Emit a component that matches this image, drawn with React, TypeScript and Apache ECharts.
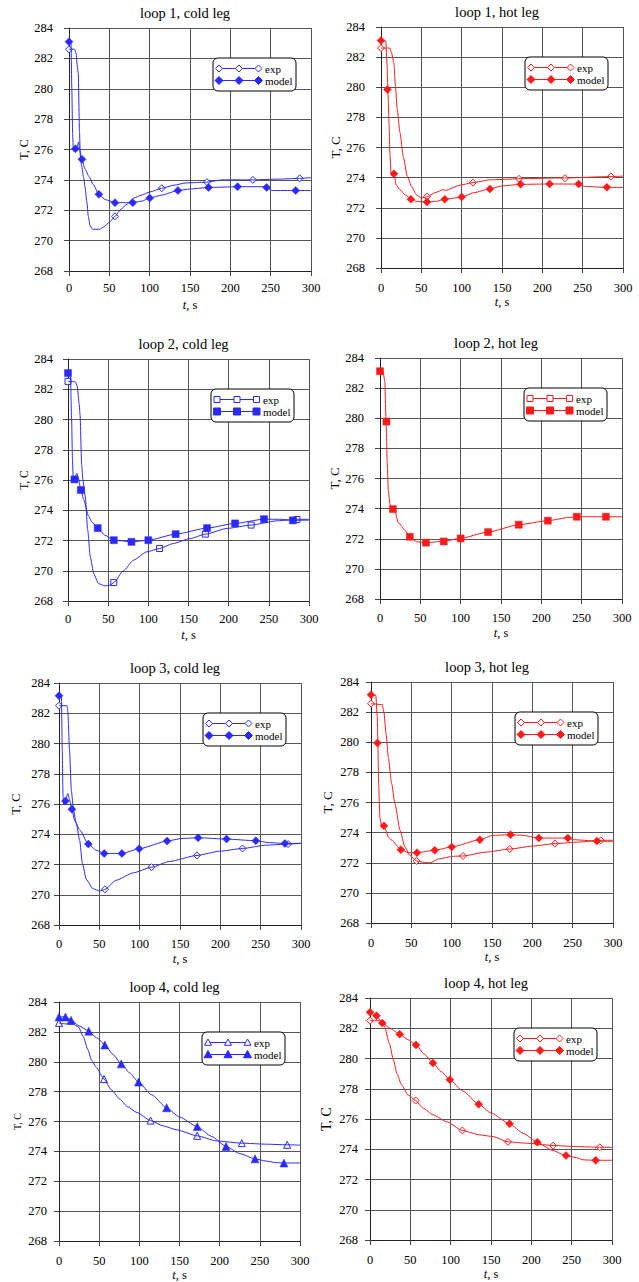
import React, { useEffect, useRef } from "react";
import * as echarts from "echarts";

// ---------- data (t in s, T in C) ----------
const X_TICKS = [0, 50, 100, 150, 200, 250, 300];
const Y_TICKS = [268, 270, 272, 274, 276, 278, 280, 282, 284];
const TITLES = [
  "loop 1, cold leg", "loop 1, hot leg",
  "loop 2, cold leg", "loop 2, hot leg",
  "loop 3, cold leg", "loop 3, hot leg",
  "loop 4, cold leg", "loop 4, hot leg",
];
const SERIES_NAMES = ["exp", "model"];

// loop 1 cold
const L1C_EXP = [[0,282.6],[7,282.6],[9,282.3],[10,281.6],[11.5,281.0],[13,277.2],[14,275.6],[15.7,274.9],[18,274.2],[20,273.5],[22,272.6],[24,271.6],[26,271.0],[29,270.75],[38,270.75],[43,270.9],[50,271.2],[57,271.6],[65,272.1],[72,272.4],[80,272.8],[90,273.0],[100,273.2],[115,273.45],[130,273.65],[145,273.8],[171,273.85],[190,274.0],[228,274.0],[260,274.05],[286,274.1],[300,274.15]];
const L1C_EXP_MARKS = [[0,282.6],[57,271.6],[115,273.45],[171,273.85],[228,274.0],[286,274.1]];
const L1C_MODEL = [[0,283.1],[2.5,283.0],[3.5,280],[4.5,277],[5.5,275.9],[8,276.05],[10,276.2],[12,276.5],[13,276.0],[16,275.35],[20,274.7],[25,274.2],[30,273.7],[37,273.05],[45,272.7],[57,272.5],[79,272.5],[90,272.6],[100,272.8],[115,273.0],[135,273.3],[150,273.4],[173,273.5],[209,273.55],[240,273.55],[245,273.5],[252,273.3],[281,273.3],[300,273.3]];
const L1C_MODEL_MARKS = [[0,283.1],[8,276.05],[16,275.35],[37,273.05],[57,272.5],[79,272.5],[100,272.8],[135,273.3],[173,273.5],[209,273.55],[245,273.5],[281,273.3]];

// loop 1 hot
const L1H_EXP = [[0,282.6],[11,282.6],[13,282.3],[16,281.6],[18,280.0],[20,278.6],[23.5,277.0],[27.6,275.4],[32.6,274.1],[38,273.4],[44,272.85],[50,272.65],[57,272.72],[67,273.0],[77,273.2],[80,273.15],[98,273.5],[114,273.67],[135,273.85],[160,273.9],[171,273.93],[228,273.98],[285,274.07],[300,274.1]];
const L1H_EXP_MARKS = [[0,282.6],[57,272.74],[114,273.67],[171,273.92],[228,273.96],[285,274.08]];
const L1H_MODEL = [[0,283.1],[6,283.05],[7.5,281.5],[8.5,279.9],[10,277.5],[11,275.6],[12.4,274.3],[14,274.1],[16,274.25],[19,273.5],[23.5,273.2],[30,272.85],[37,272.57],[44,272.42],[57,272.38],[69,272.43],[79,272.57],[100,272.7],[115,273.0],[135,273.25],[150,273.45],[173,273.55],[209,273.58],[245,273.57],[252,273.42],[280,273.35],[300,273.35]];
const L1H_MODEL_MARKS = [[0,283.1],[8,279.85],[16,274.25],[37,272.57],[57,272.38],[79,272.57],[100,272.72],[135,273.25],[173,273.56],[209,273.58],[245,273.58],[280,273.36]];

// loop 2 cold
const L2C_EXP = [[0,282.52],[9,282.5],[11.5,282.2],[14,281.0],[15,280.3],[17,277.0],[18.6,276.0],[21.5,274.9],[24.5,272.7],[27.8,270.9],[32,269.8],[38,269.15],[46,269.0],[52.6,269.05],[57,269.22],[69,270.0],[81.6,270.7],[98,271.25],[114,271.47],[131,271.8],[152,272.13],[171,272.42],[198,272.8],[228,273.02],[260,273.3],[285,273.4],[300,273.4]];
const L2C_EXP_MARKS = [[0,282.52],[57,269.22],[114,271.47],[171,272.42],[228,273.02],[285,273.39]];
const L2C_MODEL = [[0,283.07],[3,283.0],[4.5,280.0],[5.5,277.5],[6.5,276.1],[8,276.04],[11,276.45],[12.5,276.2],[16,275.34],[19.5,274.7],[25.7,273.6],[30,273.2],[37,272.82],[46,272.35],[57,272.02],[65,271.98],[79,271.91],[100,272.02],[134,272.42],[173,272.82],[208,273.13],[244,273.41],[265,273.4],[280,273.33],[300,273.35]];
const L2C_MODEL_MARKS = [[0,283.07],[8,276.04],[16,275.34],[37,272.82],[57,272.02],[79,271.91],[100,272.02],[134,272.42],[173,272.82],[208,273.13],[244,273.41],[280,273.33]];

// loop 2 hot (no experimental curve drawn)
const L2H_EXP: number[][] = [];
const L2H_EXP_MARKS: number[][] = [];
const L2H_MODEL = [[0,283.12],[4,283.07],[6,282.4],[7.4,279.9],[9,277.0],[10.3,275.2],[12.4,274.3],[15,273.97],[18.6,273.8],[22.8,273.06],[31,272.57],[36.4,272.13],[45.5,271.8],[56.7,271.74],[78,271.83],[99.3,272.02],[133.6,272.44],[172,272.93],[208,273.2],[235,273.42],[243,273.46],[279,273.46],[300,273.46]];
const L2H_MODEL_MARKS = [[0,283.12],[8,279.78],[16,273.97],[37,272.13],[57,271.74],[79,271.82],[100,272.02],[134,272.44],[172,272.93],[208,273.2],[244,273.46],[280,273.46]];

// loop 3 cold
const L3C_EXP = [[0,282.5],[10,282.5],[11,282.1],[13,279.6],[15.3,276.9],[18,275.6],[21.5,274.7],[25.6,273.6],[29,272.07],[34,271.0],[42,270.4],[50.5,270.25],[56.7,270.35],[71,270.96],[92,271.45],[114.6,271.82],[137,272.2],[171,272.6],[199,272.88],[227.5,273.06],[257,273.28],[284,273.35],[300,273.4]];
const L3C_EXP_MARKS = [[0,282.5],[57,270.36],[114.6,271.82],[171,272.6],[227.5,273.06],[284,273.35]];
const L3C_MODEL = [[0,283.16],[3,283.1],[4,279.6],[5,276.5],[5.8,276.0],[8,276.2],[11,276.7],[13,276.3],[16,275.65],[19.4,274.9],[25.6,274.3],[36.4,273.35],[46,272.95],[56,272.73],[78,272.73],[99.3,273.04],[134,273.55],[152,273.72],[172.5,273.77],[207.7,273.68],[244,273.57],[260,273.45],[280,273.39],[300,273.4]];
const L3C_MODEL_MARKS = [[0,283.16],[8,276.2],[16,275.65],[36.4,273.35],[56,272.73],[78,272.73],[99.3,273.04],[134,273.55],[172.5,273.77],[207.7,273.68],[244,273.57],[280,273.39]];

// loop 3 hot
const L3H_EXP = [[0,282.56],[14,282.5],[16,282.0],[18.6,280.6],[21.5,279.0],[25.6,277.25],[29.7,275.9],[36,274.15],[42,273.05],[48,272.5],[56.5,272.12],[65,272.03],[73,272.0],[85,272.27],[102,272.43],[114,272.45],[143,272.71],[172,272.91],[201,273.11],[228,273.27],[259,273.38],[285,273.49],[300,273.49]];
const L3H_EXP_MARKS = [[0,282.56],[56.5,272.12],[114,272.45],[172,272.91],[228,273.27],[285,273.49]];
const L3H_MODEL = [[0,283.16],[6,283.1],[7.8,281.7],[8.5,279.95],[9.5,277.25],[11,275.0],[12.8,274.5],[14,274.3],[16,274.45],[18,274.2],[21.5,273.7],[25.6,273.5],[37,272.87],[46,272.67],[57,272.67],[79,272.83],[100,273.05],[135,273.53],[151,273.82],[173,273.86],[188,273.82],[208,273.64],[244,273.64],[250,273.53],[280,273.44],[300,273.42]];
const L3H_MODEL_MARKS = [[0,283.16],[8,279.95],[16,274.45],[37,272.87],[57,272.67],[79,272.83],[100,273.05],[135,273.53],[173,273.86],[208,273.64],[244,273.64],[280,273.44]];

// loop 4 cold
const L4C_EXP = [[0,282.6],[4,282.55],[18,282.5],[24,282.35],[30,281.7],[36,280.8],[40.5,280.1],[46.7,279.6],[56,278.84],[65,278.13],[75.6,277.5],[85,277.0],[97,276.6],[114,276.06],[130,275.7],[146.7,275.44],[172,275.04],[196,274.7],[227.5,274.55],[258.6,274.48],[284,274.44],[300,274.42]];
const L4C_EXP_MARKS = [[0,282.6],[56,278.84],[114,276.06],[172,275.04],[227.5,274.55],[284,274.44]];
const L4C_MODEL = [[0,283.0],[8,283.0],[10,282.95],[15,282.8],[25,282.4],[37,282.05],[47,281.6],[57,281.15],[67,280.5],[77.5,279.86],[88,279.25],[99,278.64],[115,277.8],[134,276.92],[150,276.3],[172,275.66],[190,275.0],[208,274.33],[225,273.85],[244,273.5],[258,273.35],[270,273.25],[280,273.22],[300,273.22]];
const L4C_MODEL_MARKS = [[0,283.0],[8,283.0],[15,282.78],[37,282.05],[57,281.12],[77.5,279.86],[99,278.64],[134,276.92],[172,275.66],[208,274.33],[244,273.5],[280,273.22]];

// loop 4 hot
const L4H_EXP = [[0,282.5],[13,282.5],[16,282.35],[18,282.1],[24,281.0],[29,279.9],[33.5,279.0],[39,278.26],[47,277.6],[56.6,277.22],[65.7,276.72],[78,276.28],[94.6,275.83],[114.5,275.24],[136,274.95],[152.5,274.84],[171,274.49],[194,274.4],[227,274.25],[255.8,274.18],[284.7,274.13],[300,274.13]];
const L4H_EXP_MARKS = [[0,282.5],[56.6,277.22],[114.5,275.24],[171,274.49],[227,274.24],[284.7,274.13]];
const L4H_MODEL = [[0,283.05],[8,282.83],[15.3,282.34],[25,282.0],[36.8,281.6],[47,281.25],[57,280.9],[67,280.3],[78,279.7],[88,279.15],[99,278.6],[115,277.85],[134.7,276.98],[150,276.4],[173,275.68],[190,275.05],[207.4,274.47],[225,273.95],[243,273.58],[256,273.45],[264,273.3],[279.8,273.27],[300,273.27]];
const L4H_MODEL_MARKS = [[0,283.05],[8,282.83],[15.3,282.34],[36.8,281.6],[57,280.9],[78,279.7],[99,278.6],[134.7,276.98],[173,275.68],[207.4,274.47],[243,273.58],[279.8,273.27]];

const PANEL_DATA = [
  [L1C_EXP, L1C_EXP_MARKS, L1C_MODEL, L1C_MODEL_MARKS],
  [L1H_EXP, L1H_EXP_MARKS, L1H_MODEL, L1H_MODEL_MARKS],
  [L2C_EXP, L2C_EXP_MARKS, L2C_MODEL, L2C_MODEL_MARKS],
  [L2H_EXP, L2H_EXP_MARKS, L2H_MODEL, L2H_MODEL_MARKS],
  [L3C_EXP, L3C_EXP_MARKS, L3C_MODEL, L3C_MODEL_MARKS],
  [L3H_EXP, L3H_EXP_MARKS, L3H_MODEL, L3H_MODEL_MARKS],
  [L4C_EXP, L4C_EXP_MARKS, L4C_MODEL, L4C_MODEL_MARKS],
  [L4H_EXP, L4H_EXP_MARKS, L4H_MODEL, L4H_MODEL_MARKS],
];

// ---------- layout & style ----------
const BLUE = "#2a2aff";
const RED = "#ff1a1a";
const FONT = "Liberation Serif";
const PANELS = [
  { left: 69, top: 28, w: 242, h: 243, color: BLUE, sym: "diamond", yName: 12, yMargin: 16, xMargin: 10 },
  { left: 381, top: 27, w: 242, h: 241, color: RED, sym: "diamond", yName: 13, yMargin: 16, xMargin: 13 },
  { left: 68, top: 359, w: 241, h: 242, color: BLUE, sym: "rect", yName: 11.5, yMargin: 15, xMargin: 11 },
  { left: 380, top: 358, w: 242, h: 241, color: RED, sym: "rect", yName: 13, yMargin: 16, xMargin: 12 },
  { left: 59, top: 683, w: 242, h: 242, color: BLUE, sym: "diamond", yName: 12.5, yMargin: 9, xMargin: 12 },
  { left: 371, top: 682, w: 242, h: 241, color: RED, sym: "diamond", yName: 13, yMargin: 12, xMargin: 13 },
  { left: 59, top: 1002, w: 241, h: 241, color: BLUE, sym: "triangle", yName: 10, yMargin: 12, xMargin: 13 },
  { left: 370, top: 998, w: 242, h: 242, color: RED, sym: "diamond", yName: 14, yMargin: 12, xMargin: 13 },
];

function markerShape(sym: string, x: number, y: number, color: string, filled: boolean) {
  const style = { fill: filled ? color : "#fff", stroke: color, lineWidth: 1 };
  if (sym === "rect") {
    const s = filled ? 7 : 6;
    return { type: "rect", shape: { x: x - s / 2, y: y - s / 2, width: s, height: s }, style, z: 102 };
  }
  if (sym === "triangle") {
    const r = filled ? 4 : 3.5;
    return { type: "polygon", shape: { points: [[x, y - r], [x + r, y + r * 0.8], [x - r, y + r * 0.8]] }, style, z: 102 };
  }
  const r = filled ? 4 : 3.5;
  return { type: "polygon", shape: { points: [[x, y - r], [x + r, y], [x, y + r], [x - r, y]] }, style, z: 102 };
}

function legendGraphic(p: any) {
  const bx = p.left + p.w - 98;
  const by = p.top + 30;
  const els: any[] = [
    { type: "rect", shape: { x: bx, y: by, width: 83, height: 33, r: 5 }, style: { fill: "#fff", stroke: "#000", lineWidth: 1 }, z: 100 },
  ];
  SERIES_NAMES.forEach((name, i) => {
    const y = by + 10.5 + i * 12;
    els.push({ type: "line", shape: { x1: bx + 6, y1: y, x2: bx + 45.5, y2: y }, style: { stroke: p.color, lineWidth: 1 }, z: 101 });
    [6, 26, 45.5].forEach((dx) => els.push(markerShape(p.sym, bx + dx, y, p.color, i === 1)));
    els.push({
      type: "text", x: bx + 52, y, z: 102,
      style: { text: name, fill: "#000", fontFamily: FONT, fontSize: 11, verticalAlign: "middle", align: "left" },
    });
  });
  return els;
}

export default function App() {
  const ref = useRef<HTMLDivElement>(null);
  useEffect(() => {
    if (!ref.current) return;
    const chart = echarts.init(ref.current, undefined, { renderer: "svg" });

    const grid: any[] = [];
    const xAxis: any[] = [];
    const yAxis: any[] = [];
    const title: any[] = [];
    const series: any[] = [];
    const graphic: any[] = [];

    PANELS.forEach((p, i) => {
      grid.push({ left: p.left, top: p.top, width: p.w, height: p.h, show: false });
      title.push({
        text: TITLES[i], left: p.left + p.w / 2 - 5, top: p.top - 23, textAlign: "center", padding: 0,
        textStyle: { fontFamily: FONT, fontSize: 14.5, fontWeight: "normal", color: "#000" },
      });
      xAxis.push({
        type: "value", gridIndex: i, min: X_TICKS[0], max: X_TICKS[X_TICKS.length - 1], interval: 50,
        name: "{i|t}, s", nameLocation: "middle", nameGap: 27,
        nameTextStyle: { fontFamily: FONT, fontSize: 12.5, color: "#000", rich: { i: { fontFamily: FONT, fontSize: 12.5, fontStyle: "italic", color: "#000" } } },
        axisLine: { show: true, onZero: false, lineStyle: { color: "#222", width: 1 } },
        axisTick: { show: true, inside: false, length: 5, lineStyle: { color: "#444" } },
        axisLabel: { fontFamily: FONT, fontSize: 12.5, color: "#000", margin: p.xMargin },
        splitLine: { show: true, lineStyle: { color: "#555", width: 1 } },
      });
      yAxis.push({
        type: "value", gridIndex: i, min: Y_TICKS[0], max: Y_TICKS[Y_TICKS.length - 1], interval: 2,
        name: "T, C", nameLocation: "middle", nameGap: 37,
        nameTextStyle: { fontFamily: FONT, fontSize: p.yName, color: "#000" },
        axisLine: { show: true, onZero: false, lineStyle: { color: "#222", width: 1 } },
        axisTick: { show: true, inside: false, length: 5, lineStyle: { color: "#444" } },
        axisLabel: { fontFamily: FONT, fontSize: 12.5, color: "#000", margin: p.yMargin },
        splitLine: { show: true, lineStyle: { color: "#555", width: 1 } },
      });
      const [expLine, expMarks, modelLine, modelMarks] = PANEL_DATA[i];
      const common = { xAxisIndex: i, yAxisIndex: i, silent: true };
      series.push({
        ...common, type: "line", name: "exp", data: expLine, symbol: "none", showSymbol: false,
        smooth: 0.2, smoothMonotone: "x", lineStyle: { color: p.color, width: 1 },
      });
      series.push({
        ...common, type: "line", name: "model", data: modelLine, symbol: "none", showSymbol: false,
        smooth: 0.2, smoothMonotone: "x", lineStyle: { color: p.color, width: 1 },
      });
      series.push({
        ...common, type: "scatter", name: "exp", data: expMarks, symbol: p.sym,
        symbolSize: p.sym === "rect" ? 6 : 7,
        itemStyle: { color: "#fff", borderColor: p.color, borderWidth: 1, opacity: 1 },
      });
      series.push({
        ...common, type: "scatter", name: "model", data: modelMarks, symbol: p.sym,
        symbolSize: p.sym === "rect" ? 7 : 8,
        itemStyle: { color: p.color, borderColor: p.color, borderWidth: 0.5, opacity: 1 },
      });
      graphic.push(...legendGraphic(p));
    });

    chart.setOption({
      animation: false,
      backgroundColor: "#fff",
      textStyle: { fontFamily: FONT },
      title, grid, xAxis, yAxis, series, graphic,
    });
    return () => chart.dispose();
  }, []);

  return (
    <div
      ref={ref}
      style={{ position: "absolute", left: 0, top: 0, width: 639, height: 1282, background: "#fff" }}
    />
  );
}
